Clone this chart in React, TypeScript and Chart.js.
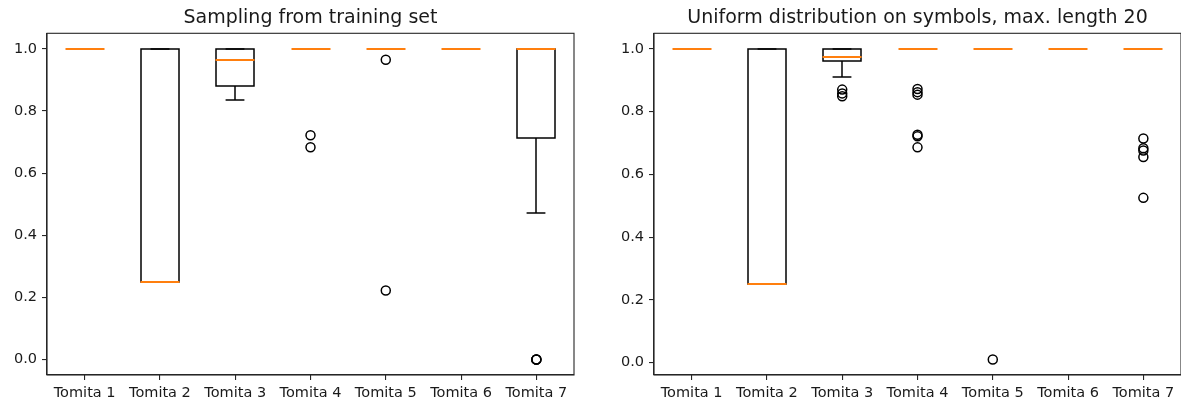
import React, { useEffect, useRef } from 'react';
import { Chart, registerables } from 'chart.js';

Chart.register(...registerables);

// Categories along the x axis (box positions 1..7)
const CATEGORIES = ['Tomita 1', 'Tomita 2', 'Tomita 3', 'Tomita 4', 'Tomita 5', 'Tomita 6', 'Tomita 7'];
const Y_TICKS = [0.0, 0.2, 0.4, 0.6, 0.8, 1.0];

// Left panel: sampling from training set
const TRAIN_TITLE = 'Sampling from training set';
const trainQ1 = [1.0, 0.25, 0.879, 1.0, 1.0, 1.0, 0.713];
const trainMedian = [1.0, 0.25, 0.965, 1.0, 1.0, 1.0, 1.0];
const trainQ3 = [1.0, 1.0, 1.0, 1.0, 1.0, 1.0, 1.0];
const trainWhiskerLow = [1.0, 0.25, 0.834, 1.0, 1.0, 1.0, 0.470];
const trainWhiskerHigh = [1.0, 1.0, 1.0, 1.0, 1.0, 1.0, 1.0];
const trainOutliers = [[], [], [], [0.722, 0.683], [0.965, 0.222], [], [0.0, 0.0, 0.0]];

// Right panel: uniform distribution on symbols
const UNIFORM_TITLE = 'Uniform distribution on symbols, max. length 20';
const uniformQ1 = [1.0, 0.25, 0.960, 1.0, 1.0, 1.0, 1.0];
const uniformMedian = [1.0, 0.25, 0.975, 1.0, 1.0, 1.0, 1.0];
const uniformQ3 = [1.0, 1.0, 1.0, 1.0, 1.0, 1.0, 1.0];
const uniformWhiskerLow = [1.0, 0.25, 0.910, 1.0, 1.0, 1.0, 1.0];
const uniformWhiskerHigh = [1.0, 1.0, 1.0, 1.0, 1.0, 1.0, 1.0];
const uniformOutliers = [
  [],
  [],
  [0.870, 0.858, 0.849],
  [0.872, 0.862, 0.854, 0.726, 0.721, 0.686],
  [0.010],
  [],
  [0.714, 0.683, 0.676, 0.655, 0.525],
];

const FONT = "'DejaVu Sans', sans-serif";
const TEXT_COLOR = '#1a1a1a';
const SPINE_COLOR = '#262626';
const MEDIAN_COLOR = '#ff7f0e';
const BOX_WIDTH = 0.5;
const CAP_WIDTH = 0.25;
const LINE_W = 1.5;
const MEDIAN_W = 2;

type Stats = {
  q1: number[];
  median: number[];
  q3: number[];
  whiskerLow: number[];
  whiskerHigh: number[];
  outliers: number[][];
};

type PanelProps = {
  title: string;
  stats: Stats;
  left: number;
  width: number;
  axisWidth: number;
  padRight: number;
};

function BoxPanel({ title, stats, left, width, axisWidth, padRight }: PanelProps) {
  const ref = useRef<HTMLCanvasElement>(null);

  useEffect(() => {
    const canvas = ref.current;
    if (!canvas) return;
    const positions = CATEGORIES.map((_, i) => i + 1);

    // y limits with a 5% margin around all drawn values
    const values = [
      ...stats.whiskerLow,
      ...stats.whiskerHigh,
      ...stats.outliers.flat(),
    ];
    const lo = Math.min(...values);
    const hi = Math.max(...values);
    const span = hi - lo;

    const fliers = stats.outliers.flatMap((vals, i) => vals.map((v) => ({ x: positions[i], y: v })));

    const boxPlugin = {
      id: 'boxes',
      beforeDatasetsDraw(chart: any) {
        const { ctx, scales } = chart;
        const x = scales.x;
        const y = scales.y;
        const py = (v: number) => Math.round(y.getPixelForValue(v));
        const seg = (x1: number, y1: number, x2: number, y2: number) => {
          ctx.beginPath();
          ctx.moveTo(x1, y1);
          ctx.lineTo(x2, y2);
          ctx.stroke();
        };
        ctx.save();
        positions.forEach((pos, i) => {
          const cx = Math.round(x.getPixelForValue(pos));
          const hb = x.getPixelForValue(pos + BOX_WIDTH / 2) - x.getPixelForValue(pos);
          const hc = x.getPixelForValue(pos + CAP_WIDTH / 2) - x.getPixelForValue(pos);
          const yQ1 = py(stats.q1[i]);
          const yQ3 = py(stats.q3[i]);
          const yMed = py(stats.median[i]);
          const yLo = py(stats.whiskerLow[i]);
          const yHi = py(stats.whiskerHigh[i]);
          ctx.strokeStyle = '#000';
          ctx.lineWidth = LINE_W;
          // whiskers
          seg(cx, yQ1, cx, yLo);
          seg(cx, yQ3, cx, yHi);
          // caps
          seg(cx - hc, yLo, cx + hc, yLo);
          seg(cx - hc, yHi, cx + hc, yHi);
          // box
          ctx.strokeRect(Math.round(cx - hb), yQ3, Math.round(2 * hb), yQ1 - yQ3);
          // median
          ctx.strokeStyle = MEDIAN_COLOR;
          ctx.lineWidth = MEDIAN_W;
          seg(Math.round(cx - hb) - 0.5, yMed, Math.round(cx - hb) + Math.round(2 * hb) + 0.5, yMed);
        });
        ctx.restore();
      },
      afterDraw(chart: any) {
        // full frame around the plot area
        const { ctx, chartArea: a } = chart;
        ctx.save();
        ctx.strokeStyle = SPINE_COLOR;
        ctx.lineWidth = 1.1;
        ctx.strokeRect(a.left, a.top, a.right - a.left, a.bottom - a.top);
        ctx.restore();
      },
    };

    const tickFont = { family: FONT, size: 14.5 };
    const chart = new Chart(canvas, {
      type: 'scatter',
      data: {
        datasets: [
          {
            data: fliers,
            pointStyle: 'circle',
            pointRadius: 4.5,
            pointBorderWidth: 1.5,
            pointBorderColor: '#000',
            pointBackgroundColor: 'rgba(0,0,0,0)',
            pointHoverRadius: 4.5,
          },
        ],
      },
      options: {
        animation: false,
        responsive: false,
        devicePixelRatio: 1,
        events: [],
        layout: { padding: { left: 0, right: padRight, top: 0, bottom: 0 } },
        plugins: {
          legend: { display: false },
          tooltip: { enabled: false },
          title: {
            display: true,
            text: title,
            fullSize: false,
            color: TEXT_COLOR,
            font: { family: FONT, size: 19, weight: 'normal', lineHeight: 1.2 },
            padding: { top: 7, bottom: 3.5 },
          },
        },
        scales: {
          x: {
            type: 'linear',
            min: 0.5,
            max: 7.5,
            afterBuildTicks: (s: any) => {
              s.ticks = positions.map((v) => ({ value: v }));
            },
            afterFit: (s: any) => {
              s.height = 30;
            },
            ticks: {
              callback: (v: any) => CATEGORIES[Math.round(Number(v)) - 1],
              autoSkip: false,
              maxRotation: 0,
              minRotation: 0,
              font: tickFont,
              color: TEXT_COLOR,
              padding: 5,
            },
            grid: {
              display: true,
              drawOnChartArea: false,
              drawTicks: true,
              tickLength: 5,
              color: SPINE_COLOR,
              lineWidth: 1.1,
            },
            border: { display: true, color: SPINE_COLOR, width: 1.1 },
          },
          y: {
            type: 'linear',
            min: lo - 0.05 * span,
            max: hi + 0.05 * span,
            afterBuildTicks: (s: any) => {
              s.ticks = Y_TICKS.map((v) => ({ value: v }));
            },
            afterFit: (s: any) => {
              s.width = axisWidth;
            },
            ticks: {
              callback: (v: any) => Number(v).toFixed(1),
              font: tickFont,
              color: TEXT_COLOR,
              padding: 5,
            },
            grid: {
              display: true,
              drawOnChartArea: false,
              drawTicks: true,
              tickLength: 5,
              color: SPINE_COLOR,
              lineWidth: 1.1,
            },
            border: { display: true, color: SPINE_COLOR, width: 1.1 },
          },
        },
      },
      plugins: [boxPlugin],
    } as any);

    return () => chart.destroy();
  }, [title, stats, axisWidth, padRight]);

  return (
    <canvas
      ref={ref}
      width={width}
      height={405}
      style={{ position: 'absolute', left, top: 0, width, height: 405 }}
    />
  );
}

const trainStats: Stats = {
  q1: trainQ1,
  median: trainMedian,
  q3: trainQ3,
  whiskerLow: trainWhiskerLow,
  whiskerHigh: trainWhiskerHigh,
  outliers: trainOutliers,
};

const uniformStats: Stats = {
  q1: uniformQ1,
  median: uniformMedian,
  q3: uniformQ3,
  whiskerLow: uniformWhiskerLow,
  whiskerHigh: uniformWhiskerHigh,
  outliers: uniformOutliers,
};

export default function App() {
  return (
    <div style={{ position: 'absolute', left: 0, top: 0, width: 1181, height: 405, background: '#fff', overflow: 'hidden' }}>
      <BoxPanel title={TRAIN_TITLE} stats={trainStats} left={0} width={590} axisWidth={47} padRight={16} />
      <BoxPanel title={UNIFORM_TITLE} stats={uniformStats} left={590} width={640} axisWidth={64} padRight={49} />
    </div>
  );
}
